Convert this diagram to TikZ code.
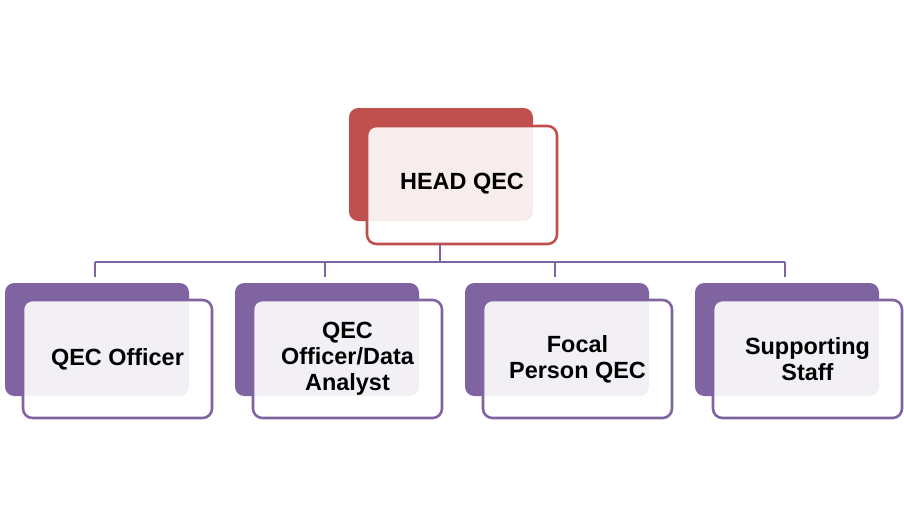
\documentclass[tikz,border=0pt]{standalone}
\usepackage{fontspec}
\setmainfont{Liberation Sans}
\definecolor{rd}{HTML}{C0504D}
\definecolor{pu}{HTML}{8064A2}
\begin{document}
\begin{tikzpicture}[x=0.03cm,y=-0.03cm,
  backbox/.style={rounded corners=8pt},
  frontbox/.style={rounded corners=8pt,fill=white,fill opacity=0.9,line width=2.2pt},
  lbl/.style={font=\bfseries\fontsize{20}{22}\selectfont,align=center,text=black},
  conn/.style={pu,line width=2.2pt}]
\useasboundingbox (0,0) rectangle (904,525);
% head
\fill[rd,backbox] (349,108) rectangle (533,221);
\draw[frontbox,draw=rd] (367,126) rectangle (557,244);
\node[lbl] (head) at (462,184) {HEAD QEC};
\coordinate (hb) at (440,244);
\coordinate (hj) at (440,262);
\draw[conn] (hb) -- (hj);
\foreach \i/\bx/\t in {1/5/{QEC Officer},2/235/{QEC\\Officer/Data\\Analyst},3/465/{Focal\\Person QEC},4/695/{Supporting\\Staff}}{
  \fill[pu,backbox] (\bx,283) rectangle ++(184,113);
  \draw[frontbox,draw=pu] (\bx+18,300) rectangle ++(189,118);
  \node[lbl] (c\i) at (\bx+112.5,359) {\t};
  \coordinate (t\i) at (\bx+90,262);
  \coordinate (d\i) at (\bx+90,277);
  \draw[conn] (t\i) -- (d\i);
}
\draw[conn] (t1) -- (t4);
\end{tikzpicture}
\end{document}
